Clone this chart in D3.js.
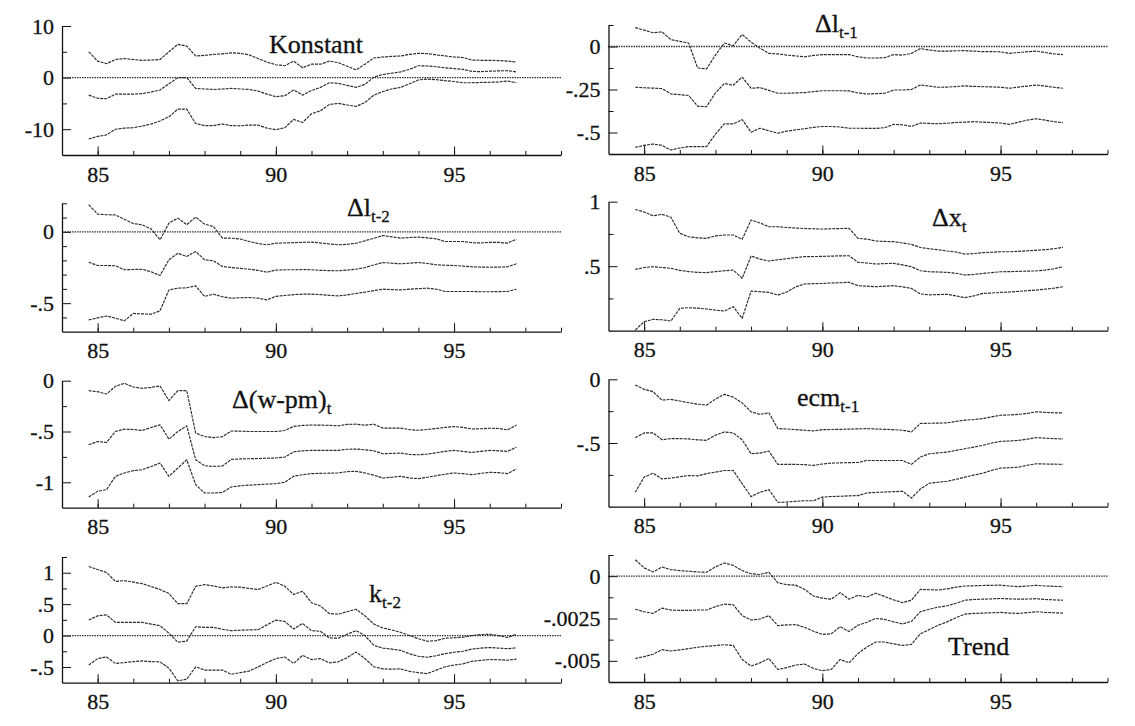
<!DOCTYPE html>
<html>
<head>
<meta charset="utf-8">
<script src="https://cdn.jsdelivr.net/npm/d3@7"></script>
<style>
  body { margin: 0; background: #fff; }
  svg text { font-family: "Liberation Serif", "Times New Roman", serif; fill: #111; stroke: #111; stroke-width: 0.3px; }
  .axis path, .axis line { stroke: #111; }
  .title { font-size: 26px; }
</style>
</head>
<body>
<svg id="chart" width="1135" height="726"></svg>
<script>
// Recursive coefficient estimates with ±2 s.e. bands, quarterly 1984:4 – 1996:4
const quarters = [84.75, 85, 85.25, 85.5, 85.75, 86, 86.25, 86.5, 86.75, 87, 87.25, 87.5, 87.75,
  88, 88.25, 88.5, 88.75, 89, 89.25, 89.5, 89.75, 90, 90.25, 90.5, 90.75, 91, 91.25, 91.5, 91.75,
  92, 92.25, 92.5, 92.75, 93, 93.25, 93.5, 93.75, 94, 94.25, 94.5, 94.75, 95, 95.25, 95.5, 95.75,
  96, 96.25, 96.5, 96.75];
const yearTicks = [85, 86, 87, 88, 89, 90, 91, 92, 93, 94, 95, 96, 97, 98];
const yearLabels = [85, 90, 95];

// Konstant
const konstUpper = [5.0,3.2,2.7,3.5,3.7,3.5,3.35,3.4,3.5,5.0,6.45,6.1,4.2,4.3,4.5,4.6,4.8,4.7,4.4,3.7,3.0,2.5,2.3,3.2,1.9,2.6,2.6,3.2,2.9,2.2,1.5,2.6,3.8,4.0,4.1,4.2,4.5,4.7,4.65,4.4,4.2,4.0,3.9,3.4,3.35,3.35,3.3,3.2,3.0];
const konstMid = [-3.4,-4.0,-4.1,-3.2,-3.2,-3.2,-3.1,-2.8,-2.4,-1.2,0.0,0.0,-2.1,-2.2,-2.3,-2.2,-2.1,-2.2,-2.3,-2.6,-3.2,-3.7,-3.5,-2.4,-3.4,-2.5,-1.9,-1.0,-1.1,-1.5,-1.9,-1.3,0.1,0.6,0.85,1.1,1.6,2.3,2.25,2.1,1.9,1.75,1.6,1.2,1.15,1.25,1.3,1.35,1.1];
const konstLower = [-11.9,-11.4,-11.1,-10.0,-9.8,-9.7,-9.4,-9.0,-8.4,-7.6,-6.1,-6.1,-8.9,-9.3,-9.3,-9.0,-9.3,-9.35,-9.2,-9.2,-9.8,-10.1,-9.7,-8.1,-8.7,-7.0,-6.45,-5.2,-5.0,-5.3,-5.6,-4.8,-3.4,-2.7,-2.2,-1.9,-1.2,-0.45,-0.3,-0.4,-0.6,-0.75,-1.0,-1.0,-0.95,-0.9,-0.85,-0.65,-1.0];
const konstMajor = [10, 0, -10], konstLabels = ["10", "0", "-10"], konstMinor = [5, -5];

// Δl t-1
const dl1Upper = [0.11,0.095,0.08,0.085,0.04,0.03,0.02,-0.125,-0.13,-0.05,0.02,0.005,0.07,0.025,-0.01,-0.04,-0.043,-0.05,-0.055,-0.06,-0.052,-0.047,-0.047,-0.047,-0.047,-0.06,-0.067,-0.067,-0.065,-0.047,-0.05,-0.04,-0.012,-0.02,-0.027,-0.027,-0.025,-0.024,-0.027,-0.03,-0.03,-0.031,-0.04,-0.035,-0.03,-0.027,-0.035,-0.043,-0.047];
const dl1Mid = [-0.237,-0.24,-0.242,-0.245,-0.276,-0.28,-0.285,-0.347,-0.35,-0.27,-0.215,-0.225,-0.178,-0.243,-0.239,-0.255,-0.272,-0.272,-0.27,-0.268,-0.262,-0.257,-0.257,-0.257,-0.258,-0.27,-0.276,-0.274,-0.272,-0.253,-0.253,-0.25,-0.224,-0.23,-0.237,-0.236,-0.233,-0.229,-0.232,-0.234,-0.235,-0.237,-0.243,-0.236,-0.23,-0.224,-0.23,-0.237,-0.243];
const dl1Lower = [-0.586,-0.575,-0.567,-0.575,-0.602,-0.59,-0.582,-0.582,-0.582,-0.51,-0.45,-0.45,-0.425,-0.498,-0.475,-0.49,-0.504,-0.492,-0.485,-0.478,-0.47,-0.465,-0.465,-0.468,-0.475,-0.475,-0.476,-0.476,-0.472,-0.453,-0.455,-0.465,-0.445,-0.447,-0.449,-0.446,-0.442,-0.44,-0.437,-0.44,-0.442,-0.445,-0.453,-0.44,-0.428,-0.42,-0.428,-0.437,-0.443];
const dl1Major = [0, -0.25, -0.5], dl1Labels = ["0", "-.25", "-.5"], dl1Minor = [0.125, -0.125, -0.375];

// Δl t-2
const dl2Upper = [0.19,0.124,0.12,0.118,0.088,0.058,0.049,0.02,-0.056,0.061,0.096,0.05,0.103,0.054,0.037,-0.044,-0.045,-0.05,-0.068,-0.082,-0.091,-0.08,-0.078,-0.076,-0.074,-0.072,-0.078,-0.085,-0.091,-0.088,-0.08,-0.063,-0.045,-0.026,-0.035,-0.044,-0.04,-0.037,-0.042,-0.049,-0.068,-0.068,-0.068,-0.076,-0.078,-0.074,-0.074,-0.079,-0.051];
const dl2Mid = [-0.213,-0.236,-0.236,-0.238,-0.266,-0.264,-0.262,-0.28,-0.306,-0.196,-0.15,-0.173,-0.138,-0.196,-0.203,-0.243,-0.25,-0.256,-0.262,-0.27,-0.283,-0.268,-0.266,-0.266,-0.264,-0.266,-0.27,-0.272,-0.273,-0.268,-0.262,-0.25,-0.232,-0.215,-0.22,-0.224,-0.22,-0.215,-0.222,-0.231,-0.234,-0.236,-0.24,-0.245,-0.247,-0.248,-0.247,-0.245,-0.224];
const dl2Lower = [-0.617,-0.603,-0.59,-0.605,-0.624,-0.572,-0.575,-0.577,-0.554,-0.407,-0.395,-0.392,-0.379,-0.453,-0.437,-0.455,-0.465,-0.462,-0.46,-0.465,-0.477,-0.452,-0.446,-0.44,-0.437,-0.437,-0.44,-0.445,-0.449,-0.442,-0.432,-0.423,-0.412,-0.402,-0.405,-0.407,-0.402,-0.398,-0.395,-0.402,-0.418,-0.418,-0.418,-0.418,-0.42,-0.42,-0.419,-0.418,-0.402];
const dl2Major = [0, -0.5], dl2Labels = ["0", "-.5"], dl2Minor = [0.2, 0.1, -0.1, -0.2, -0.3, -0.4, -0.6];

// Δx t
const dxUpper = [0.94,0.92,0.891,0.902,0.88,0.755,0.728,0.72,0.716,0.735,0.742,0.742,0.708,0.858,0.835,0.806,0.806,0.8,0.796,0.792,0.79,0.788,0.79,0.792,0.793,0.716,0.71,0.695,0.692,0.69,0.68,0.669,0.645,0.635,0.628,0.618,0.61,0.594,0.598,0.605,0.608,0.612,0.612,0.615,0.62,0.623,0.628,0.635,0.646];
const dxMid = [0.475,0.49,0.496,0.49,0.483,0.468,0.458,0.452,0.45,0.458,0.465,0.47,0.406,0.579,0.555,0.54,0.55,0.558,0.567,0.574,0.575,0.576,0.578,0.58,0.581,0.53,0.525,0.517,0.52,0.522,0.51,0.496,0.465,0.457,0.455,0.452,0.445,0.432,0.436,0.444,0.45,0.457,0.458,0.46,0.462,0.463,0.47,0.48,0.496];
const dxLower = [0.005,0.07,0.088,0.085,0.075,0.173,0.178,0.175,0.168,0.16,0.152,0.186,0.096,0.307,0.302,0.297,0.276,0.3,0.34,0.362,0.365,0.366,0.37,0.372,0.375,0.349,0.345,0.341,0.345,0.349,0.34,0.328,0.285,0.278,0.28,0.282,0.27,0.256,0.27,0.289,0.292,0.297,0.3,0.305,0.31,0.315,0.322,0.33,0.341];
const dxMajor = [1, 0.5], dxLabels = ["1", ".5"], dxMinor = [0.75, 0.25];

// Δ(w-pm) t
const dwpmUpper = [-0.098,-0.108,-0.131,-0.055,-0.026,-0.062,-0.075,-0.065,-0.052,-0.196,-0.098,-0.098,-0.516,-0.549,-0.56,-0.55,-0.495,-0.497,-0.5,-0.5,-0.5,-0.5,-0.49,-0.45,-0.44,-0.436,-0.437,-0.44,-0.444,-0.43,-0.428,-0.438,-0.428,-0.467,-0.467,-0.467,-0.482,-0.488,-0.48,-0.47,-0.46,-0.451,-0.46,-0.475,-0.473,-0.468,-0.47,-0.484,-0.438];
const dwpmMid = [-0.631,-0.598,-0.608,-0.5,-0.477,-0.48,-0.49,-0.46,-0.435,-0.575,-0.5,-0.444,-0.778,-0.837,-0.843,-0.84,-0.775,-0.77,-0.768,-0.766,-0.763,-0.761,-0.752,-0.7,-0.69,-0.686,-0.686,-0.686,-0.686,-0.675,-0.673,-0.68,-0.69,-0.719,-0.716,-0.712,-0.726,-0.729,-0.722,-0.71,-0.695,-0.686,-0.696,-0.706,-0.695,-0.686,-0.69,-0.696,-0.654];
const dwpmLower = [-1.144,-1.088,-1.072,-0.941,-0.908,-0.885,-0.876,-0.845,-0.81,-0.941,-0.86,-0.778,-1.023,-1.105,-1.105,-1.1,-1.045,-1.035,-1.028,-1.023,-1.018,-1.013,-1.0,-0.94,-0.925,-0.915,-0.912,-0.91,-0.908,-0.895,-0.892,-0.908,-0.93,-0.958,-0.95,-0.941,-0.958,-0.964,-0.95,-0.935,-0.92,-0.908,-0.915,-0.925,-0.912,-0.902,-0.905,-0.915,-0.869];
const dwpmMajor = [0, -0.5, -1], dwpmLabels = ["0", "-.5", "-1"], dwpmMinor = [-0.25, -0.75];

// ecm t-1
const ecmUpper = [-0.045,-0.079,-0.097,-0.163,-0.158,-0.17,-0.184,-0.195,-0.203,-0.155,-0.118,-0.14,-0.185,-0.255,-0.276,-0.263,-0.387,-0.39,-0.395,-0.4,-0.405,-0.395,-0.394,-0.393,-0.391,-0.389,-0.387,-0.39,-0.393,-0.395,-0.4,-0.413,-0.347,-0.345,-0.344,-0.342,-0.33,-0.321,-0.316,-0.308,-0.295,-0.282,-0.28,-0.275,-0.268,-0.255,-0.26,-0.263,-0.263];
const ecmMid = [-0.458,-0.421,-0.42,-0.474,-0.466,-0.466,-0.468,-0.475,-0.479,-0.439,-0.413,-0.421,-0.475,-0.584,-0.579,-0.563,-0.668,-0.668,-0.668,-0.67,-0.676,-0.665,-0.658,-0.656,-0.654,-0.653,-0.637,-0.637,-0.637,-0.637,-0.637,-0.668,-0.61,-0.584,-0.578,-0.571,-0.558,-0.545,-0.532,-0.518,-0.5,-0.487,-0.484,-0.48,-0.47,-0.458,-0.462,-0.466,-0.468];
const ecmLower = [-0.887,-0.768,-0.737,-0.782,-0.775,-0.765,-0.755,-0.758,-0.74,-0.729,-0.716,-0.716,-0.82,-0.921,-0.887,-0.866,-0.966,-0.963,-0.958,-0.953,-0.953,-0.925,-0.92,-0.918,-0.915,-0.913,-0.892,-0.888,-0.885,-0.882,-0.879,-0.932,-0.861,-0.816,-0.808,-0.8,-0.785,-0.768,-0.752,-0.737,-0.715,-0.697,-0.694,-0.69,-0.675,-0.663,-0.665,-0.666,-0.668];
const ecmMajor = [0, -0.5], ecmLabels = ["0", "-.5"], ecmMinor = [-0.25, -0.75];

// k t-2
const k2Upper = [1.1,1.05,1.004,0.862,0.873,0.85,0.826,0.78,0.732,0.67,0.507,0.507,0.784,0.81,0.79,0.758,0.774,0.77,0.75,0.732,0.79,0.847,0.784,0.653,0.706,0.523,0.47,0.35,0.34,0.38,0.418,0.314,0.183,0.12,0.09,0.052,0.0,-0.05,-0.09,-0.08,-0.042,-0.035,-0.026,0.0,0.016,0.02,0.0,-0.03,0.02];
const k2Mid = [0.246,0.314,0.33,0.209,0.209,0.209,0.209,0.183,0.157,0.037,-0.105,-0.089,0.141,0.131,0.131,0.1,0.078,0.085,0.09,0.094,0.17,0.246,0.225,0.105,0.193,0.078,0.068,-0.037,-0.042,0.02,0.078,0.0,-0.157,-0.2,-0.215,-0.235,-0.29,-0.33,-0.345,-0.32,-0.288,-0.265,-0.25,-0.215,-0.2,-0.19,-0.2,-0.209,-0.195];
const k2Lower = [-0.47,-0.366,-0.34,-0.444,-0.43,-0.415,-0.403,-0.415,-0.418,-0.52,-0.72,-0.695,-0.497,-0.549,-0.549,-0.549,-0.617,-0.59,-0.565,-0.5,-0.43,-0.366,-0.34,-0.444,-0.314,-0.382,-0.366,-0.434,-0.418,-0.35,-0.261,-0.366,-0.497,-0.53,-0.535,-0.53,-0.57,-0.59,-0.605,-0.55,-0.497,-0.47,-0.45,-0.41,-0.395,-0.38,-0.385,-0.392,-0.375];
const k2Major = [1, 0.5, 0, -0.5], k2Labels = ["1", ".5", "0", "-.5"], k2Minor = [1.25, 0.75, 0.25, -0.25];

// Trend
const trendUpper = [0.00097,0.00049,0.00025,0.00054,0.00039,0.00033,0.00029,0.00025,0.00023,0.00055,0.00078,0.00064,0.00033,0.00014,0.0001,0.00023,-0.00039,-0.0005,-0.00053,-0.00078,-0.00117,-0.0013,-0.00136,-0.00097,-0.00136,-0.00113,-0.00123,-0.00101,-0.0012,-0.0014,-0.00156,-0.00142,-0.00078,-0.0008,-0.00082,-0.00075,-0.00065,-0.00058,-0.00057,-0.00055,-0.00054,-0.00053,-0.00058,-0.00062,-0.00058,-0.00054,-0.00058,-0.0006,-0.00062];
const trendMid = [-0.00195,-0.0021,-0.0022,-0.00189,-0.002,-0.00202,-0.00202,-0.002,-0.002,-0.0018,-0.00165,-0.00169,-0.00233,-0.00259,-0.00253,-0.00233,-0.00292,-0.00288,-0.00286,-0.00302,-0.00325,-0.00344,-0.0034,-0.00298,-0.00327,-0.0029,-0.00272,-0.0025,-0.00255,-0.0027,-0.00282,-0.00267,-0.0021,-0.00195,-0.00183,-0.00175,-0.0016,-0.00142,-0.00138,-0.00136,-0.00134,-0.00132,-0.00134,-0.00136,-0.00135,-0.00133,-0.00138,-0.0014,-0.00142];
const trendLower = [-0.00486,-0.00475,-0.00461,-0.00434,-0.00442,-0.00435,-0.00428,-0.0042,-0.00414,-0.0041,-0.00405,-0.00409,-0.00492,-0.00531,-0.00512,-0.00486,-0.00551,-0.0054,-0.00525,-0.00519,-0.00545,-0.00558,-0.00551,-0.00492,-0.00512,-0.00457,-0.00418,-0.00389,-0.00389,-0.004,-0.00409,-0.00403,-0.0034,-0.00315,-0.0029,-0.0027,-0.00245,-0.00224,-0.0022,-0.00218,-0.00216,-0.00214,-0.00218,-0.0022,-0.00215,-0.0021,-0.00214,-0.00216,-0.00218];
const trendMajor = [0, -0.0025, -0.005], trendLabels = ["0", "-.0025", "-.005"], trendMinor = [0.00125, -0.00125, -0.00375];

// ---- layout ----
const colX = [[62, 561], [608.5, 1107.5]];
const rowY = [
  [[26, 155], [203.3, 331.7], [380.7, 507.7], [557, 682.7]],   // left column
  [[25, 154], [201.7, 330.7], [379.3, 506.7], [555, 682]]      // right column
];
const serif = '"Liberation Serif", "Times New Roman", serif';

const panels = [
  { col: 0, row: 0, domain: [-15, 10], major: konstMajor, labels: konstLabels, minor: konstMinor,
    series: [konstUpper, konstMid, konstLower], title: ["Konstant", ""], tx: 269, ty: 53 },
  { col: 1, row: 0, domain: [-0.625, 0.125], major: dl1Major, labels: dl1Labels, minor: dl1Minor,
    series: [dl1Upper, dl1Mid, dl1Lower], title: ["\u0394l", "t-1"], tx: 815, ty: 32 },
  { col: 0, row: 1, domain: [-0.7, 0.2], major: dl2Major, labels: dl2Labels, minor: dl2Minor,
    series: [dl2Upper, dl2Mid, dl2Lower], title: ["\u0394l", "t-2"], tx: 347, ty: 216 },
  { col: 1, row: 1, domain: [0, 1], major: dxMajor, labels: dxLabels, minor: dxMinor,
    series: [dxUpper, dxMid, dxLower], title: ["\u0394x", "t"], tx: 932, ty: 226 },
  { col: 0, row: 2, domain: [-1.25, 0], major: dwpmMajor, labels: dwpmLabels, minor: dwpmMinor,
    series: [dwpmUpper, dwpmMid, dwpmLower], title: ["\u0394(w-pm)", "t"], tx: 232, ty: 408 },
  { col: 1, row: 2, domain: [-1, 0], major: ecmMajor, labels: ecmLabels, minor: ecmMinor,
    series: [ecmUpper, ecmMid, ecmLower], title: ["ecm", "t-1"], tx: 797, ty: 406 },
  { col: 0, row: 3, domain: [-0.75, 1.25], major: k2Major, labels: k2Labels, minor: k2Minor,
    series: [k2Upper, k2Mid, k2Lower], title: ["k", "t-2"], tx: 369, ty: 602 },
  { col: 1, row: 3, domain: [-0.00625, 0.00125], major: trendMajor, labels: trendLabels, minor: trendMinor,
    series: [trendUpper, trendMid, trendLower], title: ["Trend", ""], tx: 948, ty: 655 }
];

const svg = d3.select("#chart");

// axis labels: Times-like serif, large
function styleLabels(a) {
  a.attr("font-family", serif).attr("font-size", 22);
  a.selectAll("text")
    .style("font-family", serif)
    .style("font-size", "22px")
    .attr("fill", "#111");
}

panels.forEach(p => {
  const [x0, x1] = colX[p.col];
  const [yTop, yBot] = rowY[p.col][p.row];
  const x = d3.scaleLinear().domain([84, 98]).range([x0, x1]);
  const y = d3.scaleLinear().domain(p.domain).range([yBot, yTop]);
  const g = svg.append("g");

  // dotted zero reference line
  if (p.domain[0] < 0 && p.domain[1] > 0) {
    g.append("line")
      .attr("x1", x(84)).attr("x2", x(98))
      .attr("y1", y(0)).attr("y2", y(0))
      .attr("stroke", "#333").attr("stroke-width", 1.3)
      .attr("stroke-dasharray", "1.5,1");
  }

  // estimate and band lines
  const line = d3.line().x((d, i) => x(quarters[i])).y(d => y(d));
  p.series.forEach(vals => {
    g.append("path")
      .attr("d", line(vals))
      .attr("fill", "none")
      .attr("stroke", "#2a2a2a")
      .attr("stroke-width", 1.15)
      .attr("stroke-dasharray", "3,1")
      .attr("stroke-linejoin", "round");
  });

  // x axis: yearly minor ticks, labelled ticks at 85/90/95
  g.append("g").attr("class", "axis")
    .attr("transform", `translate(0,${yBot})`)
    .call(d3.axisBottom(x).tickValues(yearTicks).tickSize(-4).tickSizeOuter(0).tickFormat(""))
    .call(a => a.select(".domain").attr("stroke-width", 1.3));
  g.append("g").attr("class", "axis")
    .attr("transform", `translate(0,${yBot})`)
    .call(d3.axisBottom(x).tickValues(yearLabels).tickSize(-8.5).tickSizeOuter(0)
      .tickPadding(11).tickFormat(d3.format("d")))
    .call(a => a.select(".domain").remove())
    .call(styleLabels);

  // y axis
  g.append("g").attr("class", "axis")
    .attr("transform", `translate(${x0},0)`)
    .call(d3.axisLeft(y).tickValues(p.minor).tickSize(-5).tickSizeOuter(0).tickFormat(""))
    .call(a => a.select(".domain").attr("stroke-width", 1.3));
  g.append("g").attr("class", "axis")
    .attr("transform", `translate(${x0},0)`)
    .call(d3.axisLeft(y).tickValues(p.major).tickSize(-9).tickSizeOuter(0)
      .tickPadding(8).tickFormat((d, i) => p.labels[i]))
    .call(a => a.select(".domain").remove())
    .call(styleLabels);

  // panel title with subscript
  const t = svg.append("text").attr("class", "title")
    .attr("x", p.tx).attr("y", p.ty)
    .style("font-family", serif);
  t.append("tspan").text(p.title[0]);
  if (p.title[1]) {
    t.append("tspan").attr("font-size", 17).attr("dy", 6).text(p.title[1]);
  }
});
</script>
</body>
</html>
